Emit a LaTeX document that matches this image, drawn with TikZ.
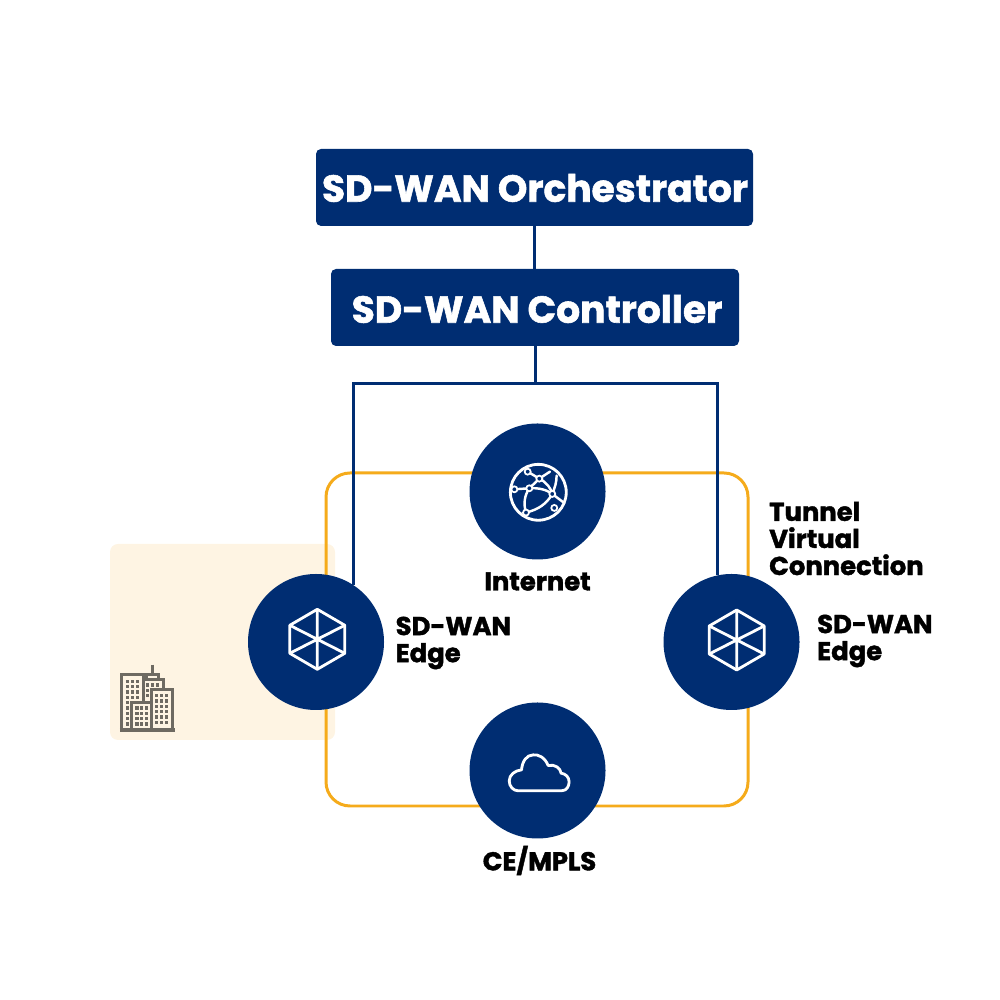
\documentclass[tikz,border=0pt]{standalone}
\usepackage{fontspec}
\setmainfont{Poppins}[BoldFeatures={FakeBold=1.5}]
\usetikzlibrary{calc}
\definecolor{navy}{HTML}{002D72}
\definecolor{amber}{HTML}{F5AB1B}
\definecolor{cream}{HTML}{FEF4E3}
\definecolor{stone}{HTML}{6E6A62}
\tikzset{
  titlebox/.style={fill=navy, rounded corners=0.05cm, text=white, inner sep=0pt, outer sep=0pt, font=\fontsize{10.7}{13}\bfseries\selectfont},
  hub/.style={fill=navy, circle, minimum size=1.36cm, inner sep=0pt, outer sep=0pt},
  tag/.style={text=black, inner sep=0pt, align=left, font=\fontsize{7.35}{7.7}\bfseries\selectfont},
  wire/.style={draw=navy, line width=0.85pt},
  icon/.style={draw=white, line width=0.8pt, line join=round},
  thin icon/.style={draw=white, line width=0.7pt, line cap=round},
  tower/.style={draw=stone, fill=cream, line width=0.85pt},
  pane/.style={fill=stone, draw=none}
}
\begin{document}
\begin{tikzpicture}
\useasboundingbox (0,0) rectangle (10,10);
\draw node[fill=cream, rounded corners=0.08cm, minimum width=2.25cm, minimum height=1.96cm, inner sep=0pt] (site) at (2.225,3.58) {};
\draw node[draw=amber, line width=0.85pt, rounded corners=0.24cm, minimum width=4.22cm, minimum height=3.33cm, inner sep=0pt] (loop) at (5.37,3.605) {};

\draw node[titlebox, minimum width=4.37cm, minimum height=0.77cm] (orch) at (5.345,8.125) {};
\draw node[titlebox, minimum width=4.08cm, minimum height=0.77cm] (ctrl) at (5.35,6.925) {};
\draw node[titlebox, fill=none] (orchlabel) at (5.35,8.12) {SD-WAN Orchestrator};
\draw node[titlebox, fill=none] (ctrllabel) at (5.37,6.91) {SD-WAN Controller};
\draw node[hub] (net) at (5.375,5.085) {};
\draw node[hub] (edgeL) at (3.16,3.58) {};
\draw node[hub] (edgeR) at (7.315,3.58) {};
\draw node[hub] (mpls) at (5.375,2.295) {};

\coordinate (bus) at (5.35,6.16);
\draw[wire] (orch.south) -- (orch.south |- ctrl.north);
\draw[wire] (ctrl.south) -- (bus);
\draw[wire] (edgeL.57) |- (bus) -| (edgeR.102);

\draw node[tag, anchor=center] (netlabel) at (5.375,4.185) {Internet};
\draw node[tag, anchor=center] (mplslabel) at (5.395,1.395) {CE/MPLS};
\draw node[tag, anchor=west] (edgeLlabel) at (3.95,3.57) {SD-WAN\\Edge};
\draw node[tag, anchor=west] (edgeRlabel) at (8.165,3.59) {SD-WAN\\Edge};
\draw node[tag, anchor=west] (tunnellabel) at (7.685,4.615) {Tunnel\\Virtual\\Connection};

\foreach \cx/\cy in {3.173/3.607, 7.367/3.60} {
  \begin{scope}[shift={(\cx,\cy)}]
    \draw[icon] (0,0.30) -- (0.275,0.14) -- (0.275,-0.14) -- (0,-0.30) -- (-0.275,-0.14) -- (-0.275,0.14) -- cycle;
    \draw[icon] (0,0.30) -- (0,-0.30) (-0.275,0.14) -- (0.275,-0.14) (-0.275,-0.14) -- (0.275,0.14);
  \end{scope}
}

\begin{scope}[shift={(5.383,5.077)}, x=0.00333cm, y=-0.00333cm]
  \draw[icon] (0,0) circle (84);
  \draw[thin icon] (3,-41) -- (-32,-62) (12,-47) -- (35,-62) (-72,-9) -- (-27,-12) (3,-41) -- (-27,-12);
  \draw[thin icon] (-27,-12) .. controls (0,-14) and (25,-8) .. (42,5);
  \draw[thin icon] (3,-41) .. controls (25,-30) and (38,-12) .. (42,5);
  \draw[thin icon] (42,5) .. controls (50,-15) and (55,-30) .. (55,-50);
  \draw[thin icon] (42,5) .. controls (25,35) and (0,52) .. (-37,61);
  \draw[thin icon] (-27,-12) .. controls (-42,10) and (-45,35) .. (-37,61);
  \draw[thin icon] (42,5) -- (78,32);
  \foreach \px/\py in {-32/-62, 3/-41, -72/-9, -27/-12, 42/5, -37/61, 48/47}
    \draw[draw=white, line width=0.5pt, fill=navy] (\px,\py) circle (9);
\end{scope}

\begin{scope}[shift={(4.60,3.00)}, x=0.00333cm, y=-0.00333cm]
  \draw[icon] (175,273) -- (305,273) .. controls (322,273) and (328,258) .. (328,246)
    .. controls (328,232) and (318,222) .. (304,220) .. controls (302,205) and (285,192) .. (265,197)
    .. controls (255,172) and (235,163) .. (220,165) .. controls (200,165) and (187,185) .. (185,210)
    .. controls (165,212) and (148,225) .. (148,243) .. controls (148,260) and (160,273) .. (175,273) -- cycle;
\end{scope}

\begin{scope}[shift={(1,4.6)}, x=0.00333cm, y=-0.00333cm]
  \draw[stone, line width=0.85pt] (158,375) -- (158,405);
  \draw[tower] (141,405) rectangle (177,420);
  \draw[tower] (130,420) rectangle (190,570);
  \draw[tower] (64,403) rectangle (130,570);
  \draw[tower] (155,450) rectangle (218,570);
  \draw[tower] (96,488) rectangle (155,570);
  \draw[stone, line width=1.1pt] (60,571) -- (225,571);
  \foreach \wy in {425,441,457,473} \foreach \wx in {82,97,112} \fill[pane] (\wx-5,\wy-5) rectangle (\wx+5,\wy+5);
  \foreach \wy in {489,505,521,537,553} \fill[pane] (82-5,\wy-5) rectangle (82+5,\wy+5);
  \foreach \wx in {142,157,172} \fill[pane] (\wx-5,436-5) rectangle (\wx+5,436+5);
  \foreach \wy in {452,468} \fill[pane] (142-5,\wy-5) rectangle (142+5,\wy+5);
  \foreach \wy in {468,484,500,516,532,548} \foreach \wx in {170,185,200} \fill[pane] (\wx-5,\wy-5) rectangle (\wx+5,\wy+5);
  \foreach \wy in {505,521,537,553} \foreach \wx in {111,125,139} \fill[pane] (\wx-5,\wy-5) rectangle (\wx+5,\wy+5);
\end{scope}
\end{tikzpicture}
\end{document}
